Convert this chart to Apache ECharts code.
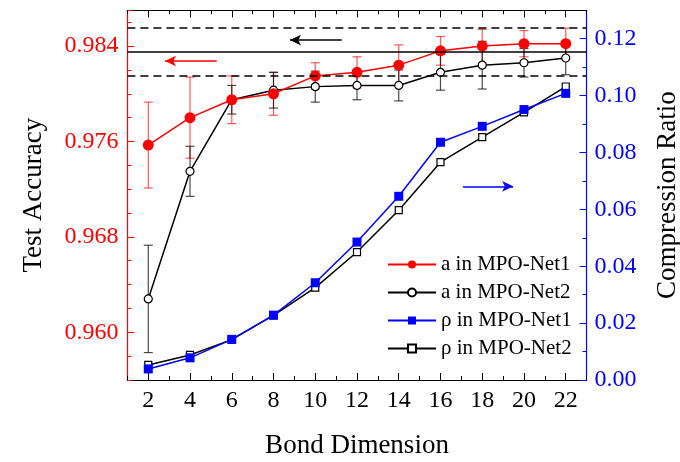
<!DOCTYPE html>
<html>
<head>
<meta charset="utf-8">
<title>MPO-Net</title>
<script src="https://cdn.jsdelivr.net/npm/echarts@6/dist/echarts.min.js"></script>
<style>
  html, body { margin: 0; padding: 0; background: #fff; }
  #chart { width: 680px; height: 462px; }
</style>
</head>
<body>
<div id="chart"></div>
<script>
// data
var bondDim = [2, 4, 6, 8, 10, 12, 14, 16, 18, 20, 22];
var accNet1 = [0.9757, 0.9780, 0.9795, 0.9800, 0.9815, 0.9818, 0.9824, 0.9836, 0.9840, 0.9842, 0.9842];
var accNet1Err = [0.0036, 0.0034, 0.0020, 0.0018, 0.0011, 0.0013, 0.0017, 0.0012, 0.0014, 0.0011, 0.0013];
var accNet2 = [0.9628, 0.9735, 0.9795, 0.9803, 0.9806, 0.9807, 0.9807, 0.9818, 0.9824, 0.9826, 0.9830];
var accNet2Err = [0.0045, 0.0021, 0.0012, 0.0015, 0.0013, 0.0012, 0.0013, 0.0015, 0.0020, 0.0012, 0.0014];
var ratioNet1 = [0.0039, 0.0078, 0.0143, 0.0228, 0.0342, 0.0485, 0.0646, 0.0836, 0.0892, 0.0951, 0.1008];
var ratioNet2 = [0.0053, 0.0088, 0.0142, 0.0227, 0.0325, 0.0450, 0.0597, 0.0766, 0.0854, 0.0941, 0.1032];

// tick labels
var xTicks = [2, 4, 6, 8, 10, 12, 14, 16, 18, 20, 22];
var accTicks = [0.960, 0.968, 0.976, 0.984];
var ratioTicks = [0, 0.02, 0.04, 0.06, 0.08, 0.10, 0.12];

// reference band (mean, +/- std) and arrows
var refMean = 0.9835;
var refBand = [0.9815, 0.9855];
var arrowBlack = [[11.27, 0.9845], [8.79, 0.9845]];
var arrowRed = [[5.28, 0.98275], [2.80, 0.98275]];
var arrowBlue = [[17.08, 0.0681], [19.48, 0.0681]];

var xMin = 1, xMax = 23;
var serif = 'Liberation Serif';

function pairs(xs, ys) {
    return xs.map(function (x, i) { return [x, ys[i]]; });
}
function bars(xs, ys, es) {
    return xs.map(function (x, i) { return [x, ys[i] - es[i], ys[i] + es[i]]; });
}
function hline(v, type) {
    return [{ coord: [xMin, v], lineStyle: { type: type } }, { coord: [xMax, v] }];
}
// 误差棒
function errorBar(color) {
    return function (params, api) {
        var x = api.value(0);
        var lo = api.coord([x, api.value(1)]);
        var hi = api.coord([x, api.value(2)]);
        var w = 4.5;
        var st = { stroke: color, lineWidth: 1.2 };
        return {
            type: 'group',
            children: [
                { type: 'line', shape: { x1: hi[0], y1: hi[1], x2: lo[0], y2: lo[1] }, style: st },
                { type: 'line', shape: { x1: hi[0] - w, y1: hi[1], x2: hi[0] + w, y2: hi[1] }, style: st },
                { type: 'line', shape: { x1: lo[0] - w, y1: lo[1], x2: lo[0] + w, y2: lo[1] }, style: st }
            ]
        };
    };
}

var chart = echarts.init(document.getElementById('chart'));

var option = {
    animation: false,
    grid: { left: 127.4, right: 93.4, top: 10.3, bottom: 82, containLabel: false, outerBoundsMode: 'none' },
    legend: {
        data: ['a in MPO-Net1', 'a in MPO-Net2', 'ρ in MPO-Net1', 'ρ in MPO-Net2'],
        orient: 'vertical',
        left: 382,
        top: 249,
        itemWidth: 48,
        itemHeight: 10,
        itemGap: 7,
        textStyle: { fontFamily: serif, fontSize: 21, color: '#000' }
    },
    xAxis: [{
        type: 'value', position: 'bottom', min: xMin, max: xMax,
        axisLine: { lineStyle: { color: '#000', width: 1.2 } },
        axisTick: { inside: true, length: 7, customValues: xTicks, lineStyle: { color: '#000' } },
        axisLabel: { customValues: xTicks, fontFamily: serif, fontSize: 24, color: '#000', margin: 9 },
        splitLine: { show: false },
        name: 'Bond Dimension', nameLocation: 'middle', nameGap: 52,
        nameTextStyle: { fontFamily: serif, fontSize: 27, color: '#000' }
    }, {
        type: 'value', position: 'bottom', min: xMin, max: xMax, interval: 1,
        axisLine: { show: false },
        axisTick: { inside: true, length: 4, lineStyle: { color: '#000' } },
        axisLabel: { show: false },
        splitLine: { show: false }
    }, {
        type: 'value', position: 'top', min: xMin, max: xMax,
        axisLine: { lineStyle: { color: '#000', width: 1.2 } },
        axisTick: { inside: true, length: 7, customValues: xTicks, lineStyle: { color: '#000' } },
        axisLabel: { show: false },
        splitLine: { show: false }
    }, {
        type: 'value', position: 'top', min: xMin, max: xMax, interval: 1,
        axisLine: { show: false },
        axisTick: { inside: true, length: 4, lineStyle: { color: '#000' } },
        axisLabel: { show: false },
        splitLine: { show: false }
    }],
    yAxis: [{
        type: 'value', position: 'left', min: 0.956, max: 0.987,
        axisLine: { show: true, lineStyle: { color: '#ff0000', width: 1.2 } },
        axisTick: { show: true, inside: true, length: 7, customValues: accTicks },
        axisLabel: {
            customValues: accTicks, fontFamily: serif, fontSize: 24, color: '#ff0000', margin: 9,
            formatter: function (v) { return v.toFixed(3); }
        },
        splitLine: { show: false },
        name: 'Test Accuracy', nameLocation: 'middle', nameGap: 80,
        nameTextStyle: { fontFamily: serif, fontSize: 27, color: '#000' }
    }, {
        type: 'value', position: 'left', min: 0.956, max: 0.987, interval: 0.002,
        axisLine: { show: false },
        axisTick: { show: true, inside: true, length: 4, lineStyle: { color: '#ff0000' } },
        axisLabel: { show: false },
        splitLine: { show: false }
    }, {
        type: 'value', position: 'right', min: 0, max: 0.13, interval: 0.02,
        axisLine: { show: true, lineStyle: { color: '#0000ff', width: 1.2 } },
        axisTick: { show: true, inside: true, length: 7, customValues: ratioTicks },
        minorTick: { show: true, splitNumber: 2, length: 4, lineStyle: { color: '#0000ff' } },
        axisLabel: {
            customValues: ratioTicks, fontFamily: serif, fontSize: 24, color: '#0000ff', margin: 8,
            formatter: function (v) { return v.toFixed(2); }
        },
        splitLine: { show: false },
        name: 'Compression Ratio', nameLocation: 'middle', nameGap: 68,
        nameTextStyle: { fontFamily: serif, fontSize: 27, color: '#000' }
    }],
    series: [{
        name: 'ρ in MPO-Net2',
        type: 'line', xAxisIndex: 0, yAxisIndex: 2,
        symbol: 'rect', symbolSize: 7,
        itemStyle: { color: '#fff', borderColor: '#000', borderWidth: 1.2 },
        lineStyle: { color: '#000', width: 1.5 },
        data: pairs(bondDim, ratioNet2),
        markLine: {
            silent: true, symbol: ['none', 'arrow'], symbolSize: [8, 11],
            label: { show: false },
            lineStyle: { color: '#0000ff', width: 1.5, type: 'solid' },
            data: [[{ coord: arrowBlue[0] }, { coord: arrowBlue[1] }]]
        }
    }, {
        name: 'ρ in MPO-Net1',
        type: 'line', xAxisIndex: 0, yAxisIndex: 2,
        symbol: 'rect', symbolSize: 9,
        itemStyle: { color: '#0000ff' },
        lineStyle: { color: '#0000ff', width: 1.5 },
        data: pairs(bondDim, ratioNet1)
    }, {
        name: 'a in MPO-Net2',
        type: 'line', xAxisIndex: 0, yAxisIndex: 0,
        symbol: 'circle', symbolSize: 8,
        itemStyle: { color: '#fff', borderColor: '#000', borderWidth: 1.2 },
        lineStyle: { color: '#000', width: 1.5 },
        data: pairs(bondDim, accNet2),
        markLine: {
            silent: true, symbol: ['none', 'none'],
            label: { show: false },
            lineStyle: { color: '#000', width: 1.5 },
            data: [
                hline(refMean, 'solid'),
                hline(refBand[0], [8, 5]),
                hline(refBand[1], [8, 5])
            ]
        }
    }, {
        name: 'a in MPO-Net1',
        type: 'line', xAxisIndex: 0, yAxisIndex: 0,
        symbol: 'circle', symbolSize: 11,
        itemStyle: { color: '#ff0000' },
        lineStyle: { color: '#ff0000', width: 1.5 },
        data: pairs(bondDim, accNet1),
        markLine: {
            silent: true, symbol: ['none', 'arrow'], symbolSize: [8, 11],
            label: { show: false },
            lineStyle: { width: 1.5, type: 'solid' },
            data: [
                [{ coord: arrowRed[0], lineStyle: { color: '#ff0000' } }, { coord: arrowRed[1] }],
                [{ coord: arrowBlack[0], lineStyle: { color: '#000' } }, { coord: arrowBlack[1] }]
            ]
        }
    }, {
        name: 'errNet1',
        type: 'custom', xAxisIndex: 0, yAxisIndex: 0,
        renderItem: errorBar('rgba(255,0,0,0.65)'),
        encode: { x: 0, y: [1, 2] },
        data: bars(bondDim, accNet1, accNet1Err),
        z: 3
    }, {
        name: 'errNet2',
        type: 'custom', xAxisIndex: 0, yAxisIndex: 0,
        renderItem: errorBar('rgba(0,0,0,0.7)'),
        encode: { x: 0, y: [1, 2] },
        data: bars(bondDim, accNet2, accNet2Err),
        z: 3
    }]
};

chart.setOption(option);
</script>
</body>
</html>
